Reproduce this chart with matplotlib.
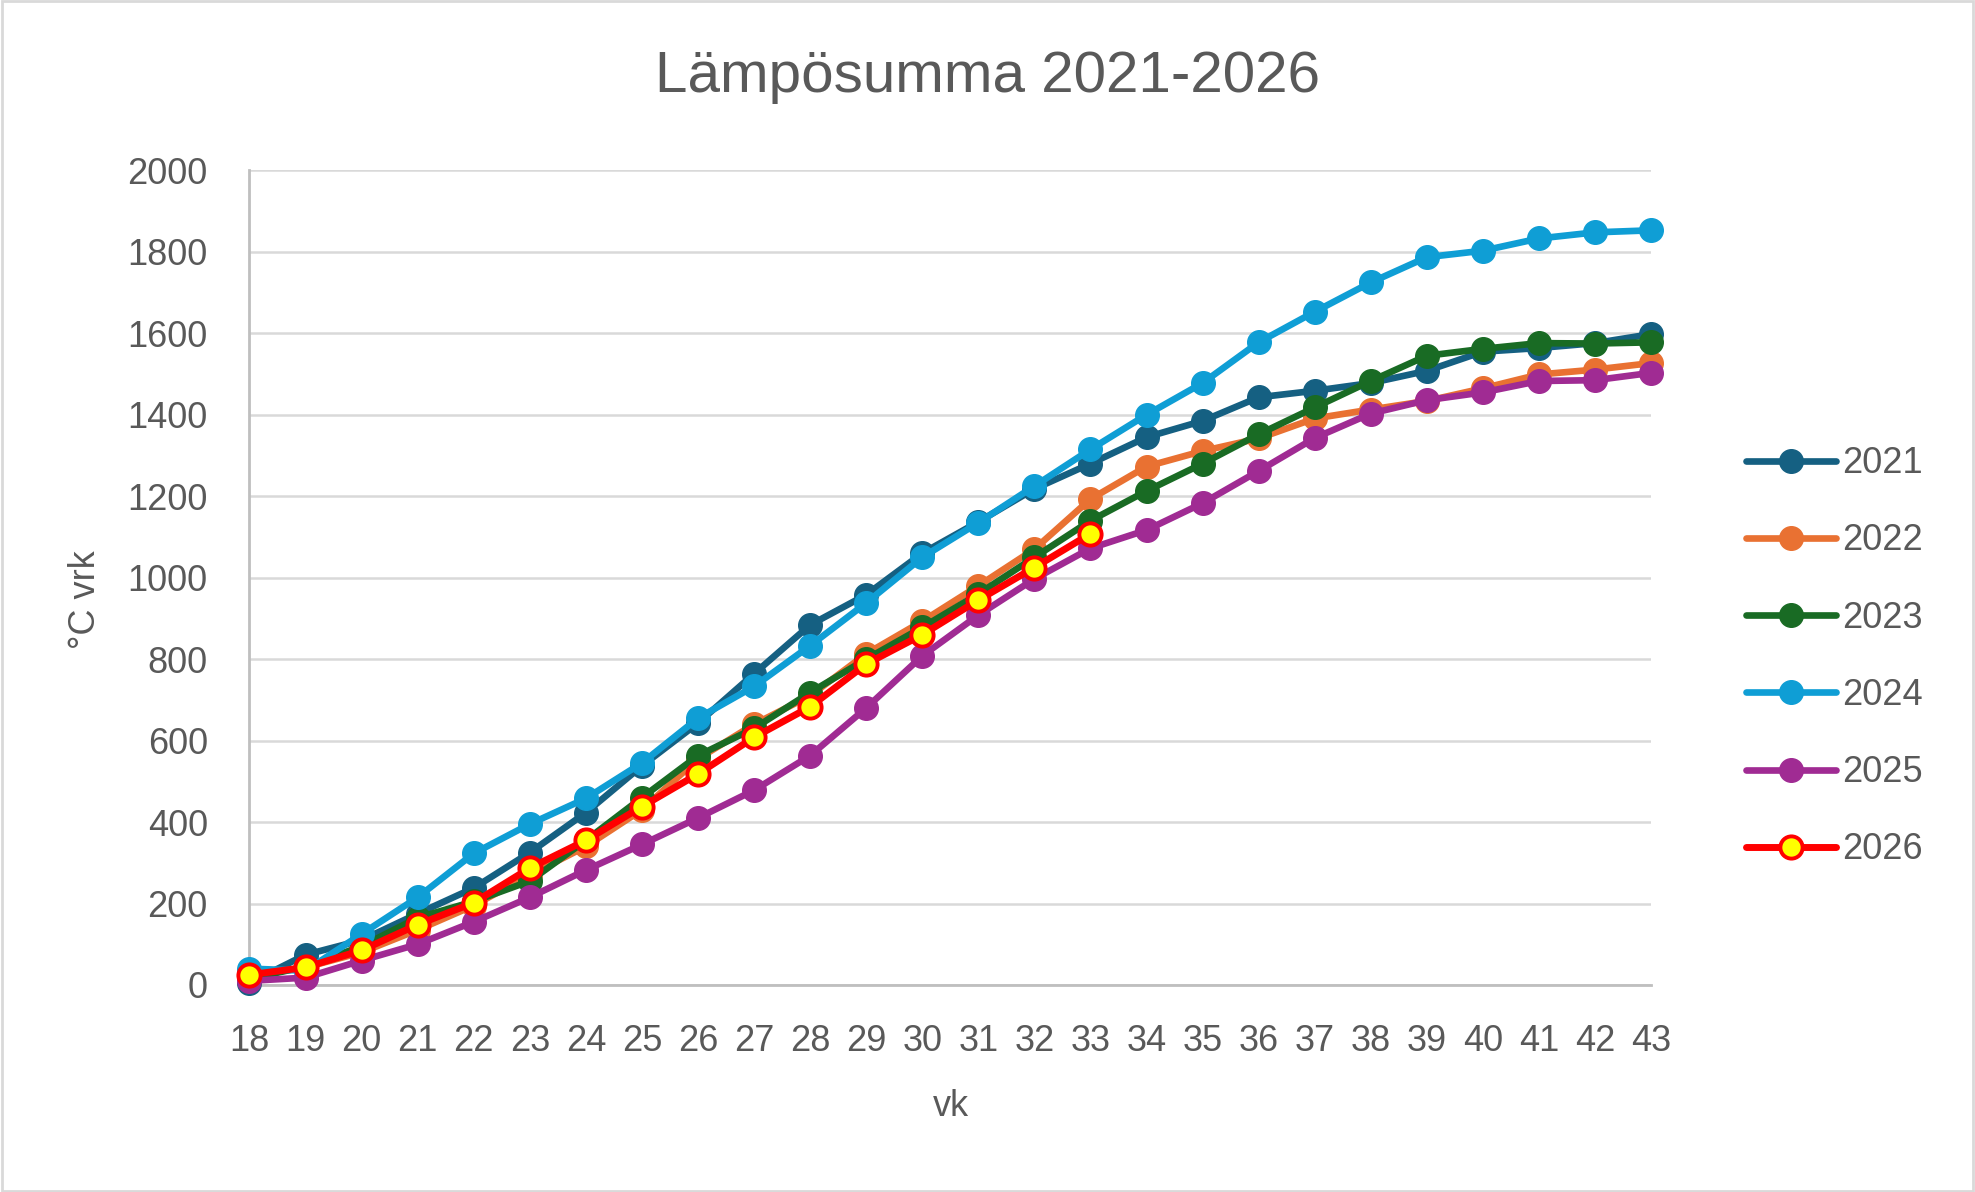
import matplotlib
matplotlib.use("Agg")
import matplotlib.pyplot as plt
from matplotlib.patches import Rectangle

weeks = list(range(18, 44))

y2021 = [5, 74, 110, 175, 238, 325, 423, 538, 643, 764, 884, 958, 1060, 1137, 1218,
         1280, 1345, 1385, 1443, 1459, 1478, 1508, 1555, 1564, 1576, 1598]
y2022 = [22, 43, 80, 135, 195, 270, 340, 430, 555, 640, 710, 813, 893, 980, 1070,
         1193, 1273, 1311, 1342, 1391, 1413, 1434, 1465, 1499, 1511, 1527]
y2023 = [15, 45, 95, 165, 205, 255, 355, 460, 563, 630, 718, 800, 878, 960, 1050,
         1140, 1213, 1280, 1352, 1418, 1483, 1545, 1562, 1576, 1575, 1578]
y2024 = [40, 35, 125, 215, 323, 395, 458, 545, 655, 733, 833, 938, 1050, 1135, 1225,
         1315, 1400, 1478, 1578, 1653, 1725, 1787, 1803, 1833, 1848, 1853]
y2025 = [10, 18, 60, 100, 155, 215, 282, 345, 410, 478, 563, 680, 808, 908, 997,
         1072, 1117, 1183, 1262, 1343, 1403, 1436, 1455, 1483, 1485, 1503]
y2026 = [25, 43, 85, 148, 202, 287, 355, 438, 518, 608, 683, 788, 860, 945, 1025, 1108]

series_names = ["2021", "2022", "2023", "2024", "2025", "2026"]
colors = ["#156082", "#E97132", "#196B24", "#0F9ED5", "#A02B93", "#FF0000"]

title = "Lämpösumma 2021-2026"
xlabel = "vk"
ylabel = "°C vrk"
yticks = list(range(0, 2001, 200))

plt.rcParams['font.family'] = ['Liberation Sans', 'DejaVu Sans']
text_color = "#595959"

fig = plt.figure(figsize=(19.75, 11.92), dpi=100)
ax = fig.add_axes([0.1263, 0.1737, 0.7097, 0.6833])

data = [y2021, y2022, y2023, y2024, y2025]
for name, vals, col in zip(series_names[:5], data, colors[:5]):
    ax.plot(weeks[:len(vals)], vals, color=col, lw=4.8, marker='o', ms=17,
            markerfacecolor=col, markeredgecolor=col, label=name, clip_on=False,
            solid_capstyle='round', solid_joinstyle='round', zorder=3)
ax.plot(weeks[:len(y2026)], y2026, color=colors[5], lw=5.0, marker='o', ms=16,
        markerfacecolor="#FFFF00", markeredgecolor="#FF0000", markeredgewidth=2.8,
        label=series_names[5], clip_on=False, solid_capstyle='round',
        solid_joinstyle='round', zorder=3)

ax.set_xlim(18, 43)
ax.set_ylim(0, 2000)
ax.set_xticks(weeks)
ax.set_xticklabels([str(w) for w in weeks])
ax.set_yticks(yticks)
ax.set_yticklabels([str(t) for t in yticks])
ax.tick_params(axis='both', length=0, labelsize=26, colors=text_color)
ax.tick_params(axis='x', pad=28)
ax.tick_params(axis='y', pad=30)
ax.grid(axis='y', color="#D9D9D9", lw=1.8, zorder=0)
ax.set_axisbelow(True)
for s in ['top', 'right']:
    ax.spines[s].set_visible(False)
for s in ['left', 'bottom']:
    ax.spines[s].set_color("#BFBFBF")
    ax.spines[s].set_linewidth(2.0)
    ax.spines[s].set_zorder(1)

fig.text(0.5, 0.935, title, ha='center', va='center', fontsize=42, color=text_color)
fig.text(0.4815, 0.072, xlabel, ha='center', va='center', fontsize=26, color=text_color)
fig.text(0.0435, 0.497, ylabel, ha='center', va='center', fontsize=26, color=text_color,
         rotation=90)

leg = ax.legend(loc='center left', bbox_to_anchor=(0.875, 0.449),
                bbox_transform=fig.transFigure, frameon=False, fontsize=26,
                handlelength=2.5, handletextpad=0.15, labelspacing=1.17,
                borderpad=0)
for t in leg.get_texts():
    t.set_color(text_color)

fig.patches.append(Rectangle((0.001, 0.001), 0.998, 0.998, transform=fig.transFigure,
                             fill=False, edgecolor="#D9D9D9", lw=2))

fig.savefig("out.png", dpi=100, facecolor="white")
